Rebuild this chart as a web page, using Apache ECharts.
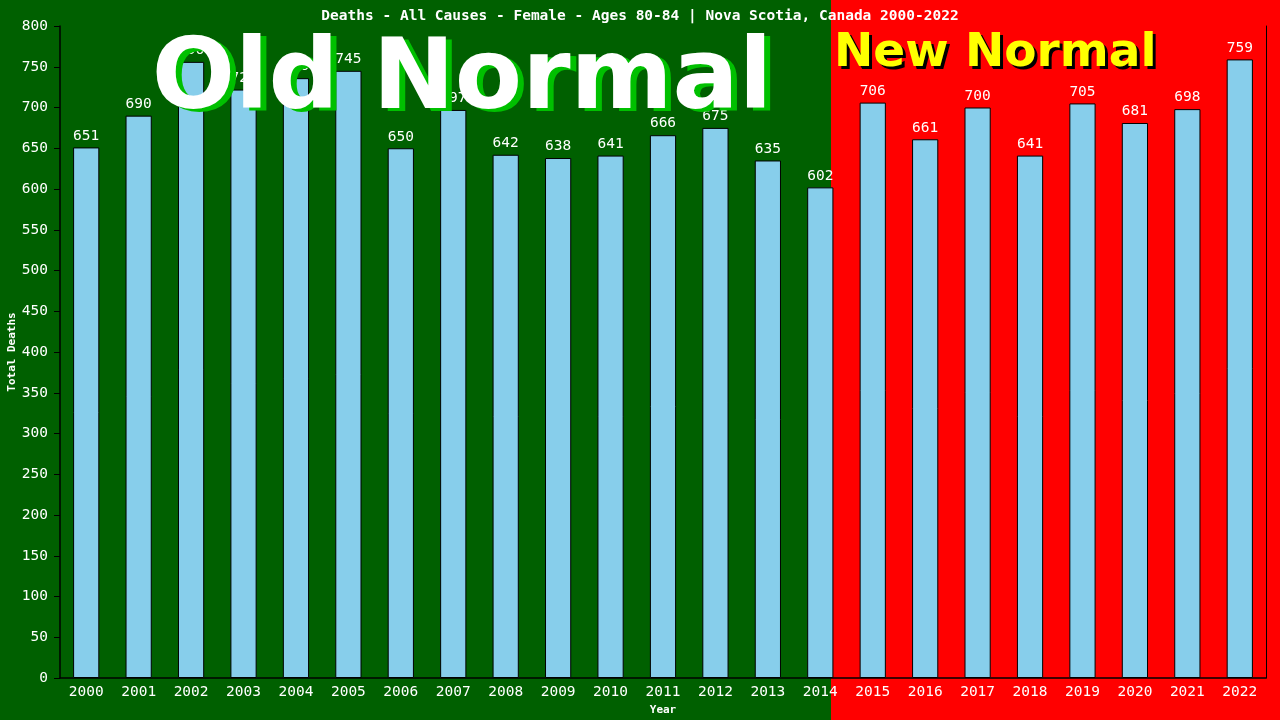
<!DOCTYPE html>
<html>
<head>
<meta charset="utf-8">
<script src="https://cdn.jsdelivr.net/npm/echarts@6/dist/echarts.min.js"></script>
<style>
  html, body { margin: 0; padding: 0; }
  #chart { width: 1280px; height: 720px; }
</style>
</head>
<body>
<div id="chart"></div>
<script>
const years = ['2000','2001','2002','2003','2004','2005','2006','2007','2008','2009','2010','2011',
  '2012','2013','2014','2015','2016','2017','2018','2019','2020','2021','2022']
const deaths = [651,690,756,722,736,745,650,697,642,638,641,666,675,635,602,706,661,700,641,705,681,698,759]
const lastOldYear = '2014'

const mono = 'DejaVu Sans Mono'
const chart = echarts.init(document.getElementById('chart'))

const option = {
  backgroundColor: '#ff0000',
  animation: false,
  title: {
    text: 'Deaths - All Causes - Female - Ages 80-84 | Nova Scotia, Canada 2000-2022',
    left: 'center',
    top: 4,
    textStyle: { color: '#fff', fontFamily: mono, fontSize: 14.5, fontWeight: 'bold' }
  },
  grid: { left: 60, right: 14, top: 26, bottom: 42, outerBoundsMode: 'none' },
  xAxis: {
    type: 'category',
    data: years,
    name: 'Year',
    nameLocation: 'middle',
    nameGap: 25,
    nameTextStyle: { color: '#fff', fontFamily: mono, fontSize: 11, fontWeight: 'bold' },
    axisLine: { lineStyle: { color: '#000', width: 1.5 } },
    axisTick: { show: false },
    axisLabel: { color: '#fff', fontFamily: mono, fontSize: 14.5, margin: 7 }
  },
  yAxis: [{
    type: 'value',
    min: 0,
    max: 800,
    interval: 50,
    name: 'Total Deaths',
    nameLocation: 'middle',
    nameGap: 42,
    nameMoveOverlap: false,
    nameTextStyle: { color: '#fff', fontFamily: mono, fontSize: 11, fontWeight: 'bold' },
    axisLine: { show: true, lineStyle: { color: '#000', width: 1.5 } },
    axisTick: { show: true, length: 6, lineStyle: { color: '#000' } },
    axisLabel: { color: '#fff', fontFamily: mono, fontSize: 14.5, margin: 12 },
    splitLine: { show: false }
  }, {
    type: 'value',
    position: 'right',
    min: 0,
    max: 800,
    axisLine: { show: true, lineStyle: { color: '#000', width: 1 } },
    axisTick: { show: false },
    axisLabel: { show: false },
    splitLine: { show: false }
  }],
  series: [{
    type: 'bar',
    data: deaths,
    barWidth: '50%',
    itemStyle: { color: '#87ceeb', borderColor: '#000', borderWidth: 1 },
    label: {
      show: true,
      position: 'top',
      distance: 4,
      color: '#fff',
      fontFamily: mono,
      fontSize: 14.5
    }
  }]
}
chart.setOption(option)

// background split sits just right of the 2014 bar centre, like the source
const x14 = chart.convertToPixel({ xAxisIndex: 0 }, lastOldYear)
const x15 = chart.convertToPixel({ xAxisIndex: 0 }, years[years.indexOf(lastOldYear) + 1])
const split = Math.round(x14 + (x15 - x14) * 0.2)

chart.setOption({
  graphic: [
    { type: 'rect', z: -10, shape: { x: 0, y: 0, width: split, height: 720 }, style: { fill: '#006000' } },
    { type: 'text', z: 100, x: 468, y: 86,
      style: { text: 'Old Normal', fill: '#00c000', font: 'bold 98px "DejaVu Sans"', align: 'center', verticalAlign: 'middle' } },
    { type: 'text', z: 101, x: 462, y: 83,
      style: { text: 'Old Normal', fill: '#fff', font: 'bold 98px "DejaVu Sans"', align: 'center', verticalAlign: 'middle' } },
    { type: 'text', z: 100, x: split + 6, y: 57,
      style: { text: 'New Normal', fill: '#000', font: 'bold 47px "DejaVu Sans"', align: 'left', verticalAlign: 'middle' } },
    { type: 'text', z: 101, x: split + 3, y: 54,
      style: { text: 'New Normal', fill: '#ffff00', font: 'bold 47px "DejaVu Sans"', align: 'left', verticalAlign: 'middle' } }
  ]
})
</script>
</body>
</html>
